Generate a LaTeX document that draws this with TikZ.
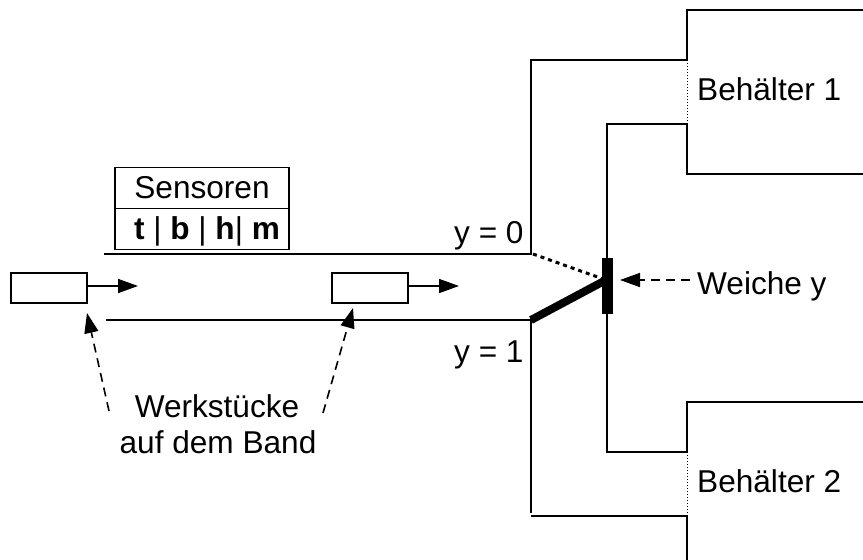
\documentclass[tikz,border=0pt]{standalone}
\usepackage{fontspec}
\setmainfont{Liberation Sans}
\usetikzlibrary{arrows.meta}
\tikzset{
  wall/.style={line width=1.6pt},
  schrift/.style={inner sep=0pt, anchor=base west, font=\fontsize{31.6}{36}\selectfont},
  teil/.style={draw, line width=1.6pt, minimum width=76pt, minimum height=30pt, inner sep=0pt},
  pfeil/.style={line width=1.6pt, -{Triangle[length=20pt,width=14pt]}},
  hinweis/.style={line width=1.6pt, dash pattern=on 9pt off 6pt, -{Triangle[length=20pt,width=14pt]}},
  feld/.style={draw, line width=1.6pt, minimum width=174pt, minimum height=41pt, inner sep=0pt}
}
\begin{document}
\begin{tikzpicture}[x=1pt,y=-1pt]
  \useasboundingbox (0,0) rectangle (863,560);

  \draw[wall](863,10)--(687,10)--(687,60)--(531,60)--(531,254)--(104,254);
  \draw[wall](106,320)--(531,320)--(531,513);
  \draw[wall](531,516)--(687,516)--(687,560);
  \draw[wall](863,174)--(687,174)--(687,124)--(607,124)--(607,452)--(687,452)--(687,402)--(863,402);

  \draw[line width=1pt, dotted](687,60)--(687,124);
  \draw[line width=1pt, dotted](687,452)--(687,516);

  \node[feld] (sensorKopf) at (202,188) {};
  \node[feld] (sensorWerte) at (202,229) {};
  \node[schrift, anchor=base] (sensorText) at (202,198) {Sensoren};
  \node[schrift, anchor=base] (sensorListe) at (207,239) {\textbf{t} | \textbf{b} | \textbf{h}| \textbf{m}};

  \node[teil] (teilA) at (49,288) {};
  \node[teil] (teilB) at (370,288) {};
  \coordinate (zielA) at (138,286);
  \coordinate (zielB) at (459,286);
  \draw[pfeil](teilA.east |- zielA)--(zielA);
  \draw[pfeil](teilB.east |- zielB)--(zielB);

  \node[schrift, anchor=base] (werkstuecke) at (217,417) {Werkstücke};
  \node[schrift, anchor=base] (band) at (218,453) {auf dem Band};
  \coordinate (startA) at (109,411);
  \coordinate (startB) at (323,413);
  \coordinate (spitzeA) at (87,313);
  \coordinate (spitzeB) at (353,308);
  \draw[hinweis](startA)--(spitzeA);
  \draw[hinweis](startB)--(spitzeB);

  \node[schrift] (nullWeg) at (454,243) {y = 0};
  \node[schrift] (einsWeg) at (454,362) {y = 1};
  \node[schrift] (behaelterA) at (697,100) {Behälter 1};
  \node[schrift] (behaelterB) at (697,492) {Behälter 2};
  \node[schrift] (weiche) at (697,294) {Weiche y};

  \node[fill=black, minimum width=11pt, minimum height=56pt, inner sep=0pt] (sperre) at (607.5,286) {};
  \coordinate (drehpunkt) at (606,280);
  \draw[line width=3pt, dash pattern=on 4pt off 4pt](533,254)--(drehpunkt);
  \draw[line width=8pt](531,320)--(drehpunkt);

  \coordinate (weicheStart) at (690,280);
  \coordinate (weicheZiel) at (620,280);
  \draw[hinweis](weicheStart)--(weicheZiel);
\end{tikzpicture}
\end{document}
